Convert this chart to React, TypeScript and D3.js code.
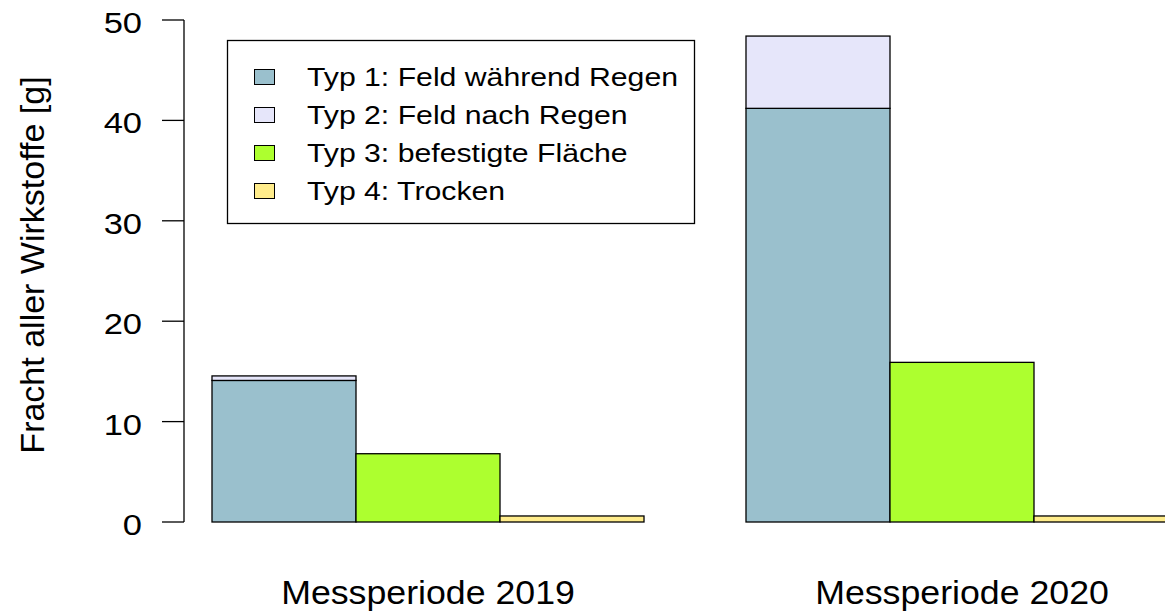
import React, { useRef, useEffect } from 'react';
import * as d3 from 'd3';

const periods = ['Messperiode 2019', 'Messperiode 2020'];
const typ1 = [14.1, 41.2];
const typ2 = [0.45, 7.2];
const typ3 = [6.8, 15.9];
const typ4 = [0.6, 0.6];
const yTicks = [0, 10, 20, 30, 40, 50];
const legendLabels = [
  'Typ 1: Feld während Regen',
  'Typ 2: Feld nach Regen',
  'Typ 3: befestigte Fläche',
  'Typ 4: Trocken',
];
const colors = ['#9AC0CD', '#E6E6FA', '#ADFF2F', '#FFEC8B'];

const width = 1165;
const height = 613;

const App = () => {
  const svgRef = useRef(null);

  useEffect(() => {
    const svg = d3.select(svgRef.current);
    svg.selectAll('*').remove();

    const font = 'Arial, "Liberation Sans", sans-serif';

    const yScale = d3.scaleLinear().domain([0, 50]).range([522, 20]);

    const xGroup = d3.scaleBand()
      .domain(periods)
      .range([212, 1178])
      .paddingInner(0.191)
      .paddingOuter(0);

    const xBar = d3.scaleBand()
      .domain(['a', 'b', 'c'])
      .range([0, xGroup.bandwidth()])
      .padding(0);

    // segments: bar a = typ1 + typ2 stacked, bar b = typ3, bar c = typ4
    const segments = [];
    periods.forEach((p, i) => {
      segments.push({ p, bar: 'a', y0: 0, y1: typ1[i], c: colors[0] });
      segments.push({ p, bar: 'a', y0: typ1[i], y1: typ1[i] + typ2[i], c: colors[1] });
      segments.push({ p, bar: 'b', y0: 0, y1: typ3[i], c: colors[2] });
      segments.push({ p, bar: 'c', y0: 0, y1: typ4[i], c: colors[3] });
    });

    svg.append('g')
      .selectAll('rect')
      .data(segments)
      .enter()
      .append('rect')
      .attr('x', (d) => xGroup(d.p) + xBar(d.bar))
      .attr('y', (d) => yScale(d.y1))
      .attr('width', xBar.bandwidth())
      .attr('height', (d) => yScale(d.y0) - yScale(d.y1))
      .attr('fill', (d) => d.c)
      .attr('stroke', '#000')
      .attr('stroke-width', 1.3);

    // y axis (R style)
    const axis = svg.append('g');
    axis.append('line')
      .attr('x1', 184).attr('x2', 184)
      .attr('y1', yScale(0)).attr('y2', yScale(50))
      .attr('stroke', '#000').attr('stroke-width', 1.3);
    axis.selectAll('.tick')
      .data(yTicks)
      .enter()
      .append('line')
      .attr('x1', 162).attr('x2', 184)
      .attr('y1', (d) => yScale(d)).attr('y2', (d) => yScale(d))
      .attr('stroke', '#000').attr('stroke-width', 1.3);
    axis.selectAll('.lbl')
      .data(yTicks)
      .enter()
      .append('text')
      .attr('transform', (d) => `translate(142, ${yScale(d) + 13}) scale(1.15, 1)`)
      .attr('text-anchor', 'end')
      .attr('font-family', font)
      .attr('font-size', 30)
      .attr('fill', '#000')
      .text((d) => d);

    // y title
    svg.append('text')
      .attr('transform', `translate(44, ${(78 + 452) / 2}) rotate(-90)`)
      .attr('text-anchor', 'middle')
      .attr('font-family', font)
      .attr('font-size', 34)
      .attr('fill', '#000')
      .text('Fracht aller Wirkstoffe [g]');

    // group labels
    svg.selectAll('.grp')
      .data(periods)
      .enter()
      .append('text')
      .attr('transform', (d) => `translate(${xGroup(d) + xGroup.bandwidth() / 2}, 604) scale(1.05, 1)`)
      .attr('text-anchor', 'middle')
      .attr('font-family', font)
      .attr('font-size', 34)
      .attr('fill', '#000')
      .text((d) => d);

    // legend
    const legend = svg.append('g');
    legend.append('rect')
      .attr('x', 227.5).attr('y', 40.5)
      .attr('width', 467).attr('height', 183)
      .attr('fill', '#fff')
      .attr('stroke', '#000').attr('stroke-width', 1.3);
    const rows = legend.selectAll('.row')
      .data(legendLabels)
      .enter()
      .append('g')
      .attr('transform', (d, i) => `translate(0, ${69 + i * 38})`);
    rows.append('rect')
      .attr('x', 254.5).attr('y', 0.5)
      .attr('width', 20).attr('height', 15)
      .attr('fill', (d, i) => colors[i])
      .attr('stroke', '#000').attr('stroke-width', 1);
    rows.append('text')
      .attr('transform', 'translate(307, 16.5) scale(1.14, 1)')
      .attr('font-family', font)
      .attr('font-size', 26.5)
      .attr('fill', '#000')
      .text((d) => d);
  }, []);

  return (
    <svg
      ref={svgRef}
      width={width}
      height={height}
      style={{ position: 'absolute', left: 0, top: 0, background: '#fff' }}
    ></svg>
  );
};

export default App;
